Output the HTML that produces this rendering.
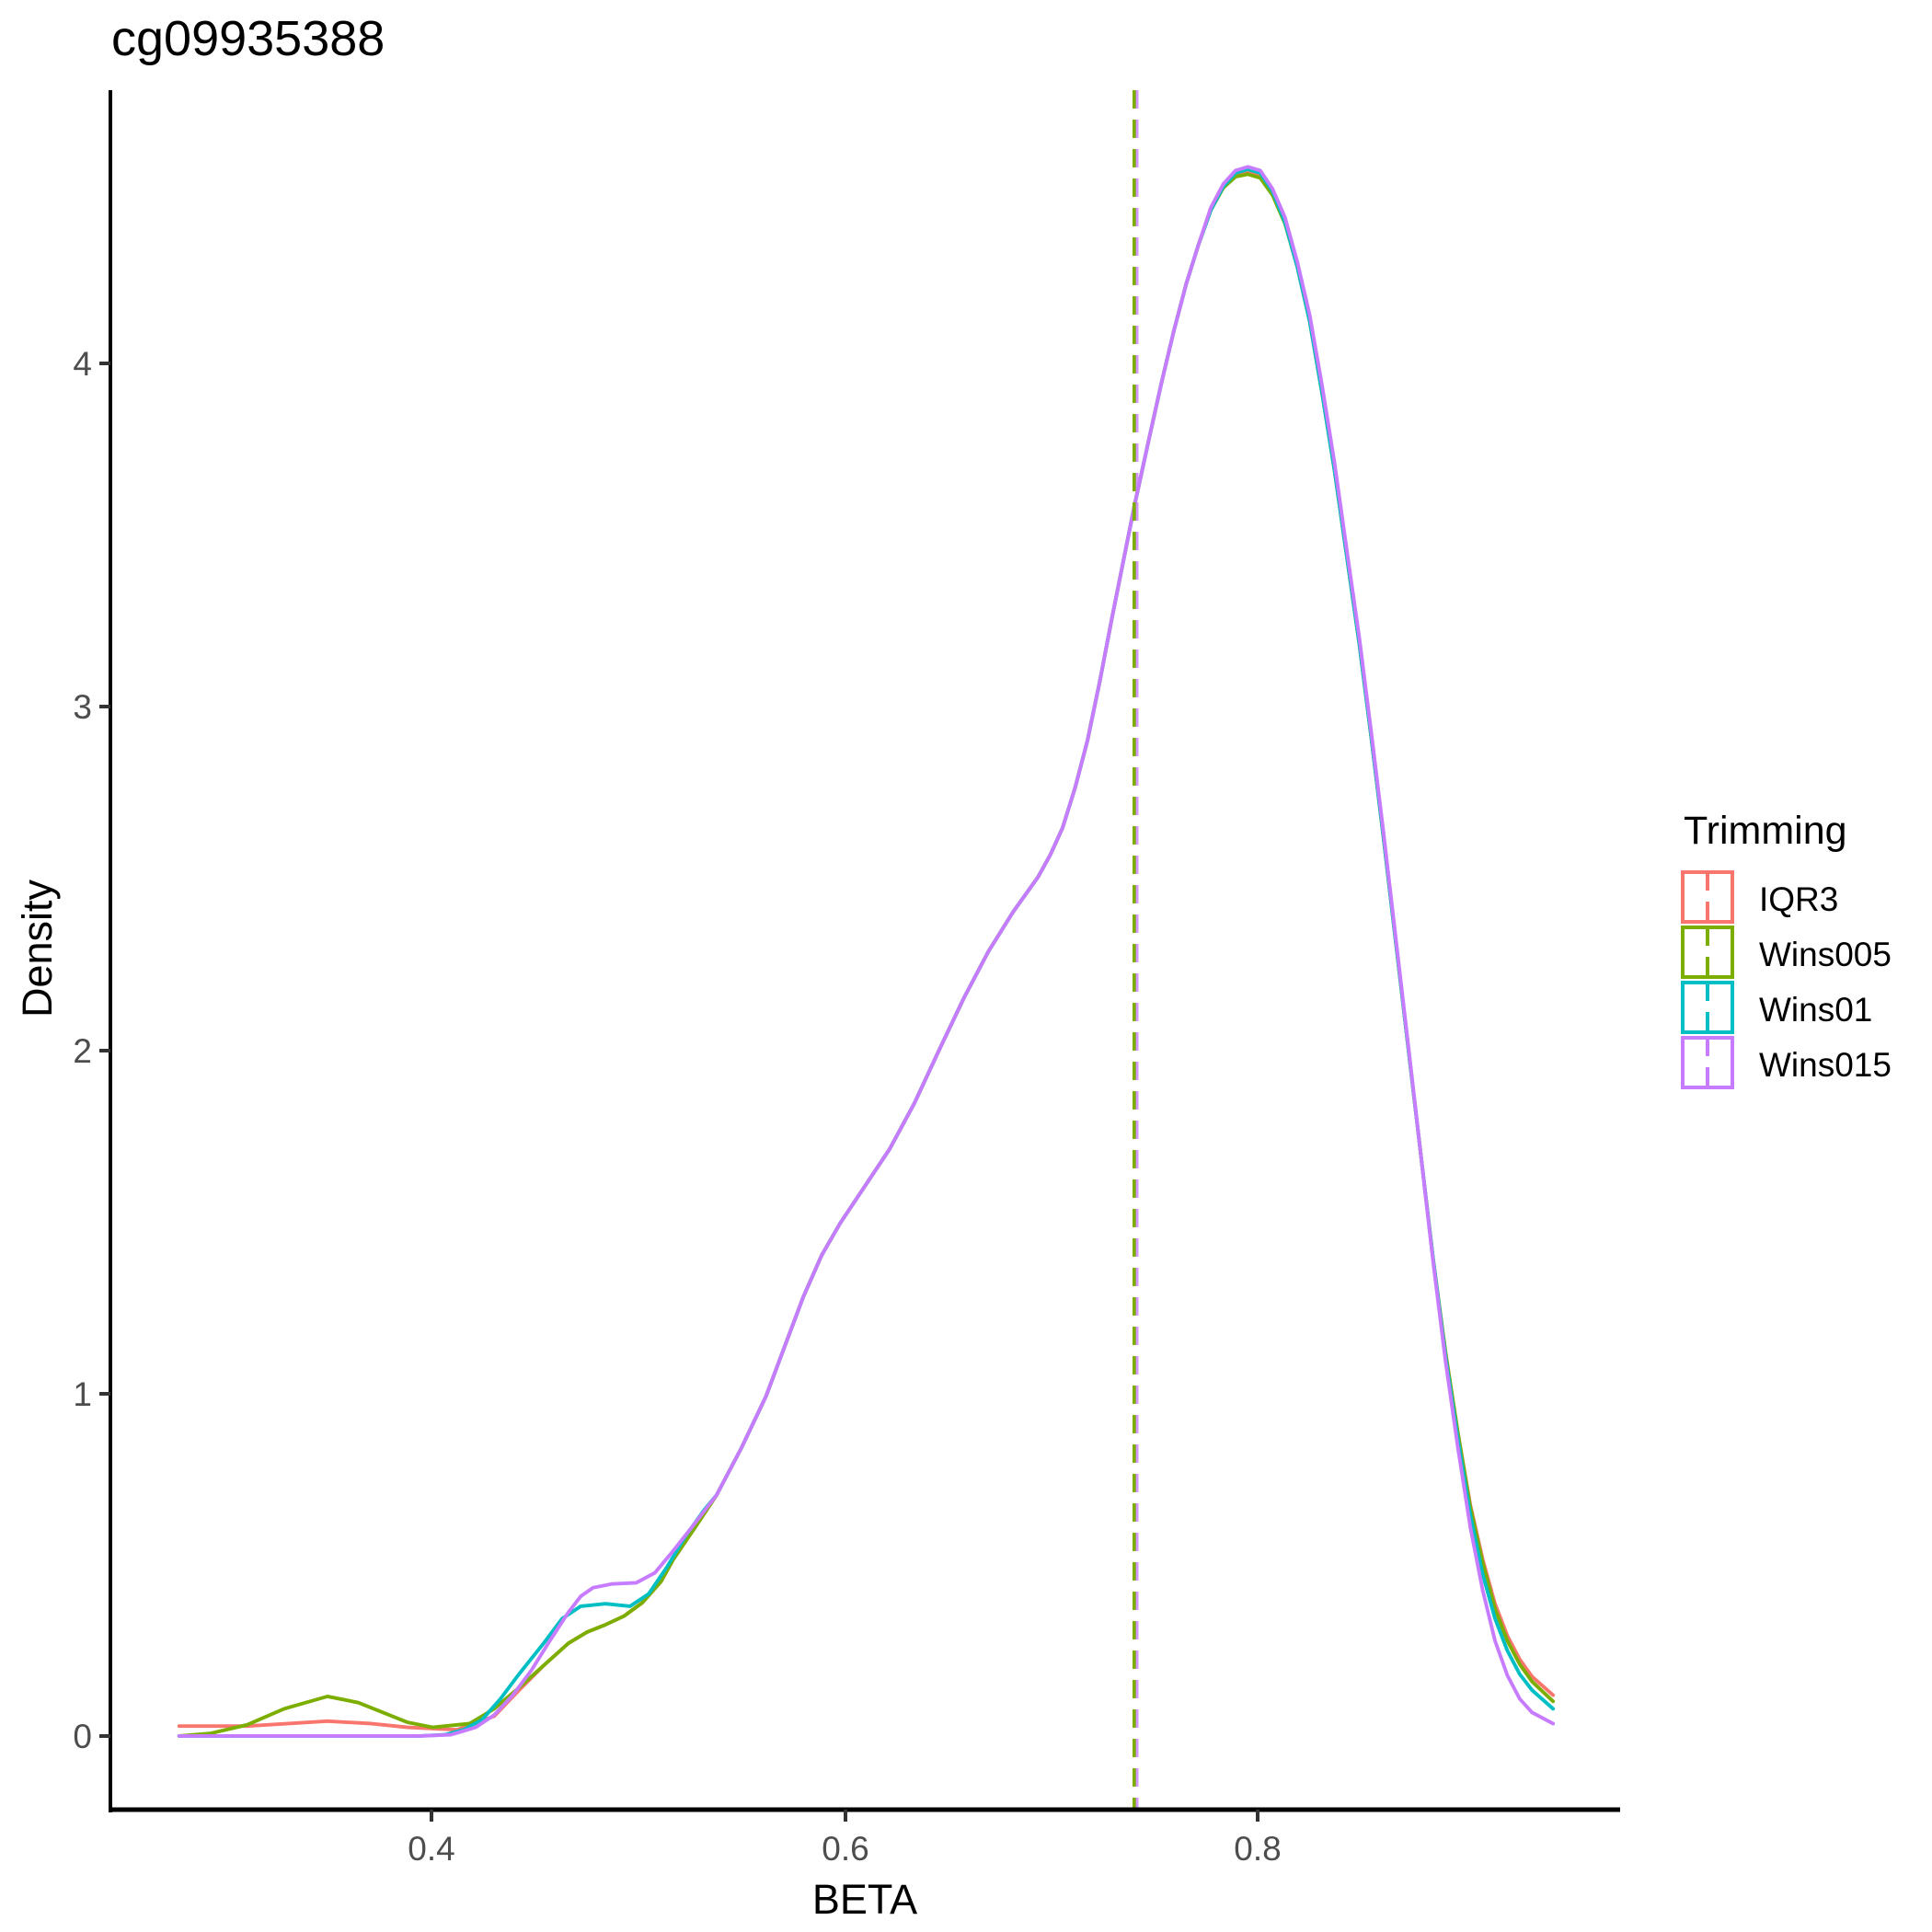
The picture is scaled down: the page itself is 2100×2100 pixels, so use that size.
<!DOCTYPE html>
<html><head><style>
html,body{margin:0;padding:0;background:#fff;}
svg{display:block;font-family:"Liberation Sans",sans-serif;}
</style></head><body>
<svg width="2100" height="2100" viewBox="0 0 2100 2100" xmlns="http://www.w3.org/2000/svg">
<rect width="2100" height="2100" fill="#fff"/>
<text x="121" y="60" font-size="54" fill="#000">cg09935388</text>
<g transform="scale(1.343)" fill="none" stroke-width="2.9" stroke-linejoin="round" stroke-linecap="round">
<polyline stroke="#F8766D" points="145,1397 200,1397 265,1393 300,1395 330,1398 370,1400 400,1389 420,1368 440,1348 460,1330 475,1321 490,1315 505,1308 520,1297 535,1280 545,1262 560,1240 580,1210 600,1172 620,1130 635,1090 650,1050 665,1016 680,990 700,960 720,930 740,893 760,850 780,808 800,770 820,738 840,710 850,692 860,670 870,638 880,600 890,552 900,500 910,450 918,410 930,355 940,310 950,268 960,230 970,198 980,170 990,152 1000,142 1010,139 1020,142 1030,157 1040,180 1050,216 1060,260 1070,318 1080,380 1090,450 1100,520 1110,598 1120,680 1130,765 1140,850 1150,935 1160,1020 1170,1095 1180,1160 1190,1218 1200,1262 1210,1298 1220,1324 1230,1343 1240,1357 1257,1372"/>
<polyline stroke="#7CAE00" points="145,1405 170,1403 200,1396 230,1383 265,1373 290,1378 310,1386 330,1394 350,1398 380,1395 400,1383 420,1366 440,1348 460,1330 475,1321 490,1315 505,1308 520,1297 535,1280 545,1262 560,1240 580,1210 600,1172 620,1130 635,1090 650,1050 665,1016 680,990 700,960 720,930 740,893 760,850 780,808 800,770 820,738 840,710 850,692 860,670 870,638 880,600 890,552 900,500 910,450 918,410 930,355 940,310 950,268 960,230 970,198 980,170 990,152 1000,143 1010,141 1020,144 1030,158 1040,181 1050,216 1060,260 1070,318 1080,380 1090,450 1100,520 1110,598 1120,680 1130,765 1140,850 1150,935 1160,1020 1170,1095 1180,1160 1190,1220 1200,1265 1210,1302 1220,1328 1230,1347 1240,1361 1257,1377"/>
<polyline stroke="#00BFC4" points="145,1405 340,1405 360,1404 375,1400 390,1392 405,1375 420,1355 440,1330 455,1310 470,1300 490,1298 510,1300 525,1290 540,1268 555,1243 570,1222 580,1210 600,1172 620,1130 635,1090 650,1050 665,1016 680,990 700,960 720,930 740,893 760,850 780,808 800,770 820,738 840,710 850,692 860,670 870,638 880,600 890,552 900,500 910,450 918,410 930,355 940,310 950,268 960,230 970,198 980,170 990,151 1000,140 1010,137 1020,140 1030,155 1040,180 1050,216 1060,260 1070,318 1080,380 1090,450 1100,520 1110,598 1120,680 1130,765 1140,850 1150,935 1160,1020 1170,1098 1180,1165 1190,1226 1200,1274 1210,1310 1220,1336 1230,1355 1240,1368 1257,1383"/>
<polyline stroke="#C77CFF" points="145,1405 340,1405 365,1404 385,1398 400,1388 415,1372 430,1352 445,1328 460,1305 470,1292 480,1285 495,1282 515,1281 530,1273 545,1255 560,1236 580,1210 600,1172 620,1130 635,1090 650,1050 665,1016 680,990 700,960 720,930 740,893 760,850 780,808 800,770 820,738 840,710 850,692 860,670 870,638 880,600 890,552 900,500 910,450 918,410 930,355 940,310 950,268 960,230 970,198 980,168 990,149 1000,138 1010,135 1020,138 1030,153 1040,176 1050,212 1060,255 1070,312 1080,374 1090,445 1100,515 1110,594 1120,676 1130,762 1140,848 1150,935 1160,1022 1170,1102 1180,1172 1190,1236 1200,1287 1210,1328 1220,1356 1230,1375 1240,1386 1257,1395"/>
</g>
<line x1="1233" y1="98" x2="1233" y2="1967" stroke="#7CAE00" stroke-width="4" stroke-dasharray="20,12"/>
<line x1="1236" y1="98" x2="1236" y2="1967" stroke="#C77CFF" stroke-width="3" stroke-dasharray="20,12" opacity="0.8"/>
<line x1="120" y1="98" x2="120" y2="1970" stroke="#000" stroke-width="4"/>
<line x1="118" y1="1967" x2="1761" y2="1967" stroke="#000" stroke-width="5"/>
<g stroke="#333" stroke-width="4">
<line x1="108" y1="1887" x2="120" y2="1887"/><line x1="108" y1="1515" x2="120" y2="1515"/>
<line x1="108" y1="1142" x2="120" y2="1142"/><line x1="108" y1="768" x2="120" y2="768"/>
<line x1="108" y1="395" x2="120" y2="395"/>
<line x1="469" y1="1967" x2="469" y2="1980"/><line x1="919" y1="1967" x2="919" y2="1980"/>
<line x1="1367" y1="1967" x2="1367" y2="1980"/>
</g>
<g font-size="37" fill="#4d4d4d" text-anchor="end">
<text x="100" y="1900">0</text><text x="100" y="1528">1</text><text x="100" y="1155">2</text>
<text x="100" y="781">3</text><text x="100" y="408">4</text>
</g>
<g font-size="37" fill="#4d4d4d" text-anchor="middle">
<text x="469" y="2022">0.4</text><text x="919" y="2022">0.6</text><text x="1367" y="2022">0.8</text>
</g>
<text x="940" y="2080" font-size="45" text-anchor="middle">BETA</text>
<text transform="translate(56,1031) rotate(-90)" font-size="45" text-anchor="middle">Density</text>
<text x="1830" y="917" font-size="43">Trimming</text>
<g fill="#fff" stroke-width="4">
<rect x="1829" y="948" width="54" height="54" stroke="#F8766D"/>
<line x1="1856" y1="948" x2="1856" y2="1002" stroke="#F8766D" stroke-dasharray="20,12"/>
<rect x="1829" y="1008" width="54" height="54" stroke="#7CAE00"/>
<line x1="1856" y1="1008" x2="1856" y2="1062" stroke="#7CAE00" stroke-dasharray="20,12"/>
<rect x="1829" y="1068" width="54" height="54" stroke="#00BFC4"/>
<line x1="1856" y1="1068" x2="1856" y2="1122" stroke="#00BFC4" stroke-dasharray="20,12"/>
<rect x="1829" y="1128" width="54" height="54" stroke="#C77CFF"/>
<line x1="1856" y1="1128" x2="1856" y2="1182" stroke="#C77CFF" stroke-dasharray="20,12"/>
</g>
<g font-size="37">
<text x="1912" y="990">IQR3</text><text x="1912" y="1050">Wins005</text>
<text x="1912" y="1110">Wins01</text><text x="1912" y="1170">Wins015</text>
</g>
</svg>
</body></html>
